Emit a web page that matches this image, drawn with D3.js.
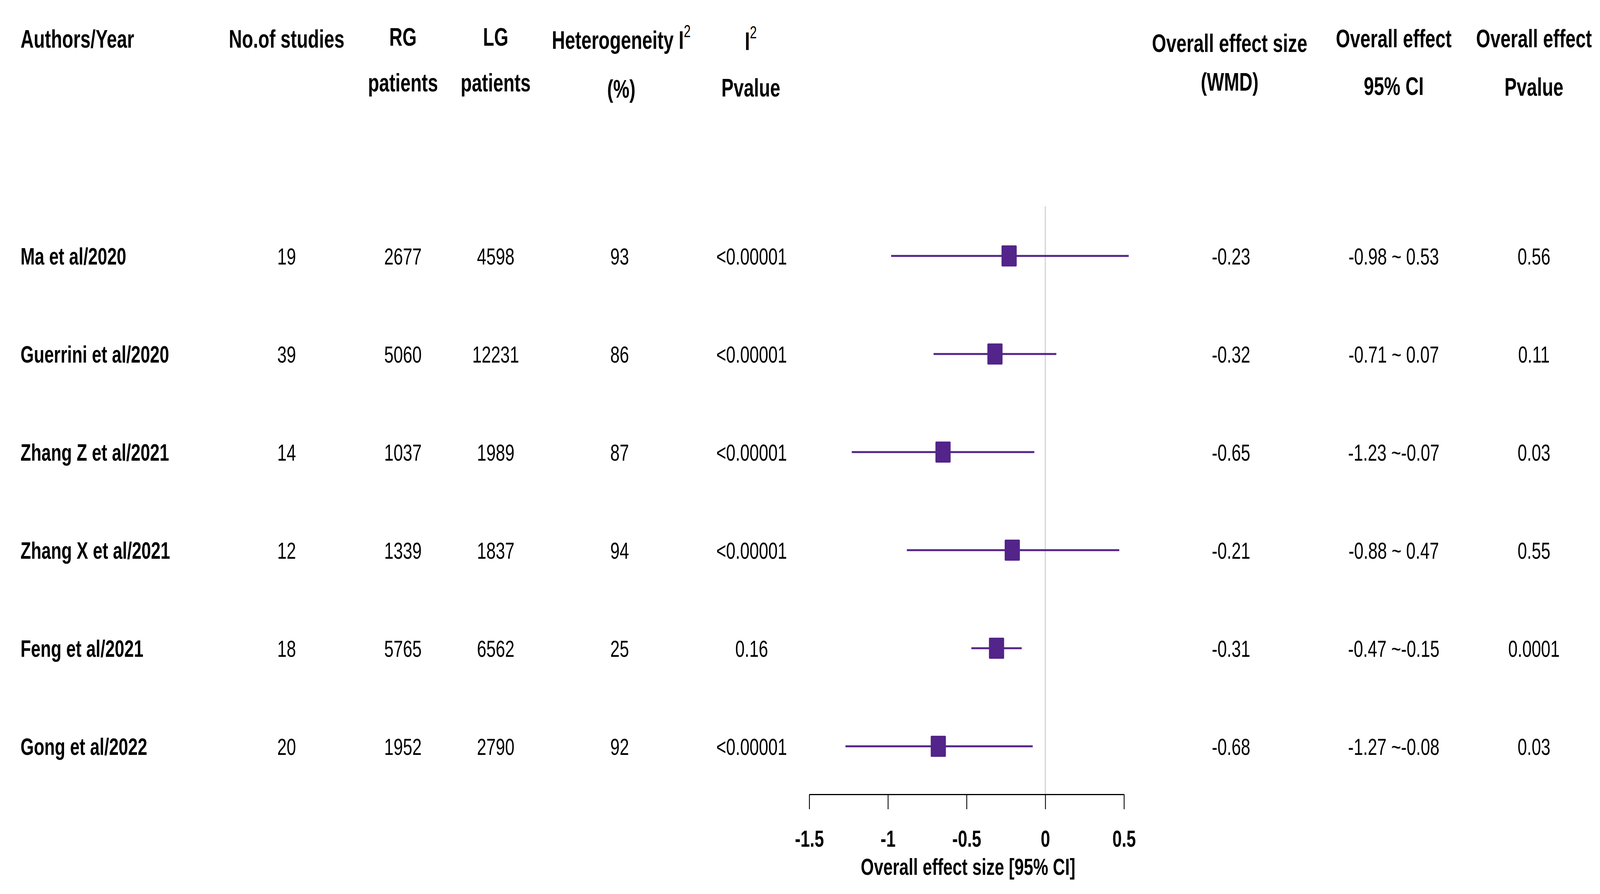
<!DOCTYPE html>
<html>
<head>
<meta charset="utf-8">
<script src="https://cdn.jsdelivr.net/npm/d3@7"></script>
<style>
  html, body { margin: 0; padding: 0; background: #fff; overflow: hidden; }
  #chart { width: 100vw; height: 100vh; }
  svg { display: block; width: 100%; height: 100%; font-family: "Liberation Sans", Arial, sans-serif; }
</style>
</head>
<body>
<div id="chart"></div>
<script>
'use strict';

// data
var authors = ['Ma et al/2020', 'Guerrini et al/2020', 'Zhang Z et al/2021',
  'Zhang X et al/2021', 'Feng et al/2021', 'Gong et al/2022'];
var studies = [19, 39, 14, 12, 18, 20];
var rgPatients = [2677, 5060, 1037, 1339, 5765, 1952];
var lgPatients = [4598, 12231, 1989, 1837, 6562, 2790];
var i2 = [93, 86, 87, 94, 25, 92];
var i2P = ['<0.00001', '<0.00001', '<0.00001', '<0.00001', '0.16', '<0.00001'];
var wmd = [-0.23, -0.32, -0.65, -0.21, -0.31, -0.68];
var ciLow = [-0.98, -0.71, -1.23, -0.88, -0.47, -1.27];
var ciHigh = [0.53, 0.07, -0.07, 0.47, -0.15, -0.08];
var effectP = ['0.56', '0.11', '0.03', '0.55', '0.0001', '0.03'];
var xTicks = [-1.5, -1, -0.5, 0, 0.5];

var W = 5694, H = 2288;
var purple = '#532489';

// the figure is drawn in 5694x2288 units and stretched to fill the window
var svg = d3.select('#chart').append('svg')
    .attr('viewBox', '0 0 ' + W + ' ' + H)
    .attr('preserveAspectRatio', 'none');

var x = d3.scaleLinear().domain([-1.5, 0.5]).range([2880, 4000]);
var y = d3.scalePoint().domain(authors).range([655, 1910]);
var axisY = 2033;

// column headers (x, anchor, lines with baseline)
var headers = [
  { x: 73, anchor: 'start', lines: [['Authors/Year', 122]] },
  { x: 1020, anchor: 'middle', lines: [['No.of studies', 122]] },
  { x: 1434, anchor: 'middle', lines: [['RG', 117], ['patients', 234]] },
  { x: 1764, anchor: 'middle', lines: [['LG', 117], ['patients', 234]] },
  { x: 2211, anchor: 'middle', lines: [['Heterogeneity I', 125, true], ['(%)', 250]] },
  { x: 2672, anchor: 'middle', lines: [['I', 128, true], ['Pvalue', 247]] },
  { x: 4376, anchor: 'middle', lines: [['Overall effect size', 133], ['(WMD)', 232]] },
  { x: 4960, anchor: 'middle', lines: [['Overall effect', 121], ['95% CI', 243]] },
  { x: 5459, anchor: 'middle', lines: [['Overall effect', 121], ['Pvalue', 245]] }
];

var head = svg.append('g')
    .style('font-size', '65px')
    .style('font-weight', 'bold')
    .style('fill', '#000');

headers.forEach(function (h) {
  h.lines.forEach(function (l) {
    var t = head.append('text')
        .attr('x', h.x)
        .attr('y', l[1])
        .attr('text-anchor', h.anchor)
        .text(l[0]);
    if (l[2]) {
      t.append('tspan')
          .attr('dy', -30)
          .style('font-size', '44px')
          .style('font-weight', 'normal')
          .text('2');
    }
  });
});

// table body
function ciText(i) {
  var lo = ciLow[i].toFixed(2), hi = ciHigh[i].toFixed(2);
  return ciHigh[i] < 0 ? lo + ' ~' + hi : lo + ' ~ ' + hi;
}

var cols = [
  { x: 73, anchor: 'start', bold: true, val: function (d, i) { return authors[i]; } },
  { x: 1020, val: function (d, i) { return studies[i]; } },
  { x: 1434, val: function (d, i) { return rgPatients[i]; } },
  { x: 1764, val: function (d, i) { return lgPatients[i]; } },
  { x: 2205, val: function (d, i) { return i2[i]; } },
  { x: 2675, val: function (d, i) { return i2P[i]; } },
  { x: 4381, val: function (d, i) { return wmd[i].toFixed(2); } },
  { x: 4960, val: function (d, i) { return ciText(i); } },
  { x: 5459, val: function (d, i) { return effectP[i]; } }
];

var body = svg.append('g').style('fill', '#000');

cols.forEach(function (c) {
  body.selectAll(null)
      .data(authors)
    .enter().append('text')
      .attr('x', c.x)
      .attr('y', function (d) { return y(d) + 22; })
      .attr('text-anchor', c.anchor || 'middle')
      .style('font-size', c.bold ? '61px' : '60px')
      .style('font-weight', c.bold ? 'bold' : 'normal')
      .text(c.val);
});

// zero reference line
svg.append('line')
    .attr('x1', x(0)).attr('x2', x(0))
    .attr('y1', 528).attr('y2', axisY)
    .style('stroke', '#d3d3d3')
    .style('stroke-width', 4);

// confidence intervals and point estimates
var rows = svg.append('g').selectAll('g')
    .data(authors)
  .enter().append('g');

rows.append('line')
    .attr('x1', function (d, i) { return x(ciLow[i]); })
    .attr('x2', function (d, i) { return x(ciHigh[i]); })
    .attr('y1', function (d) { return y(d); })
    .attr('y2', function (d) { return y(d); })
    .style('stroke', purple)
    .style('stroke-width', 5);

var box = 54;
rows.append('rect')
    .attr('x', function (d, i) { return x(wmd[i]) - box / 2; })
    .attr('y', function (d) { return y(d) - box / 2; })
    .attr('width', box)
    .attr('height', box)
    .attr('rx', 3)
    .style('fill', purple);

// x axis
var axis = svg.append('g')
    .attr('transform', 'translate(0,' + axisY + ')')
    .call(d3.axisBottom(x)
      .tickValues(xTicks)
      .tickSize(38)
      .tickSizeOuter(0)
      .tickPadding(53)
      .tickFormat(function (d) { return String(d); }));

axis.selectAll('path, line')
    .style('stroke', '#000')
    .style('stroke-width', 3);
axis.selectAll('text')
    .style('font-family', '"Liberation Sans", Arial, sans-serif')
    .style('font-size', '60px')
    .style('font-weight', 'bold')
    .style('fill', '#000');

svg.append('text')
    .attr('x', x(-0.5) + 5)
    .attr('y', 2239)
    .attr('text-anchor', 'middle')
    .style('font-size', '60px')
    .style('font-weight', 'bold')
    .style('fill', '#000')
    .text('Overall effect size [95% CI]');
</script>
</body>
</html>
